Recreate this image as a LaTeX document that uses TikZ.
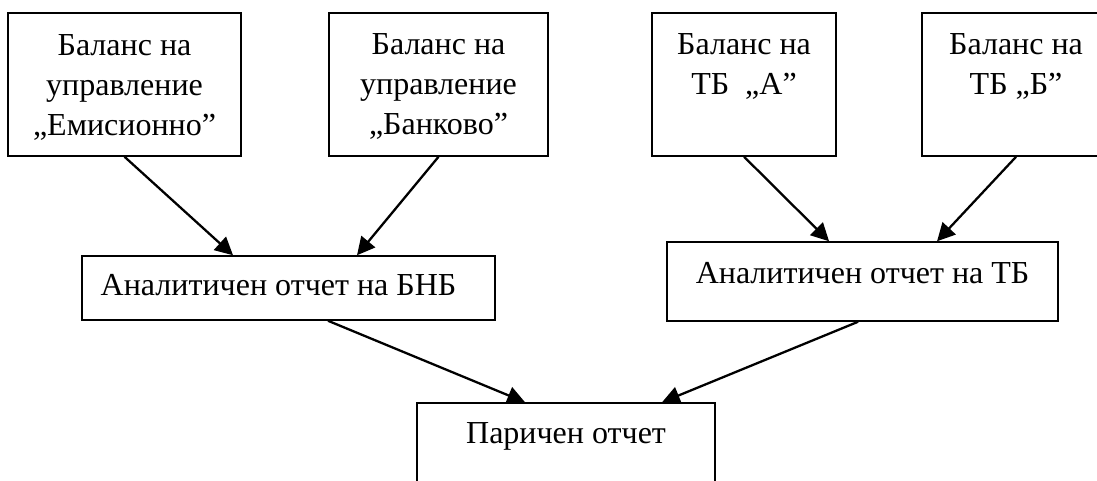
\documentclass[tikz,border=0pt]{standalone}
\usepackage{fontspec}
\setmainfont{Liberation Serif}
\usepackage{tikz}
\usetikzlibrary{arrows.meta,calc,fit}

\begin{document}
\begin{tikzpicture}[scale=0.1383]
	\tikzstyle{every node}+=[inner sep=0pt]
	\tikzstyle{box}=[draw=black, line width=0.6pt]
	\tikzstyle{txt}=[anchor=north, align=center, font=\fontsize{12.6}{15.7}\selectfont]
	\tikzstyle{arr}=[black, line width=0.9pt, -{Triangle[length=7pt, width=7pt]}]
	\useasboundingbox (0,0) rectangle (109.7,-48.1);
	\clip (0,0) rectangle (109.7,-48.1);
	% top row
	\node [box, fit={(0.8,-1.3) (24.1,-15.6)}] (b1) {};
	\node [txt] (t1) at ($(b1.north)+(0,-2.2)$) {Баланс на\\управление\\„Емисионно”};
	\node [box, fit={(32.9,-1.3) (54.8,-15.6)}] (b2) {};
	\node [txt] (t2) at ($(b2.north)+(0,-2.1)$) {Баланс на\\управление\\„Банково”};
	\node [box, fit={(65.2,-1.3) (83.6,-15.6)}] (b3) {};
	\node [txt] (t3) at ($(b3.north)+(0,-2.1)$) {Баланс на\\ТБ~ „А”};
	\node [box, fit={(92.2,-1.3) (111.0,-15.6)}] (b4) {};
	\node [txt] (t4) at ($(b4.north)+(0,-2.1)$) {Баланс на\\ТБ „Б”};
	% middle row
	\node [box, fit={(8.2,-25.6) (49.5,-32.0)}] (bnb) {};
	\node [txt] (tbnb) at ($(bnb.north)+(-1,-1.9)$) {Аналитичен отчет на БНБ};
	\node [box, fit={(66.7,-24.2) (105.8,-32.1)}] (tb) {};
	\node [txt] (ttb) at ($(tb.north)+(0,-2.1)$) {Аналитичен отчет на ТБ};
	% bottom
	\node [box, fit={(41.7,-40.3) (71.5,-50.0)}] (cash) {};
	\node [txt] (tcash) at ($(cash.north)+(0,-2.0)$) {Паричен отчет};
	% arrows
	\draw [arr] (b1.south) -- ($(bnb.north)+(-5.55,0)$);
	\draw [arr] (b2.south) -- ($(bnb.north)+(6.85,0)$);
	\draw [arr] (b3.south) -- ($(tb.north)+(-3.35,0)$);
	\draw [arr] (b4.south) -- ($(tb.north)+(7.45,0)$);
	\draw [arr] ($(bnb.south)+(3.95,0)$) -- ($(cash.north)+(-4.1,0)$);
	\draw [arr] ($(tb.south)+(-0.45,0)$) -- ($(cash.north)+(9.6,0)$);
\end{tikzpicture}
\end{document}
